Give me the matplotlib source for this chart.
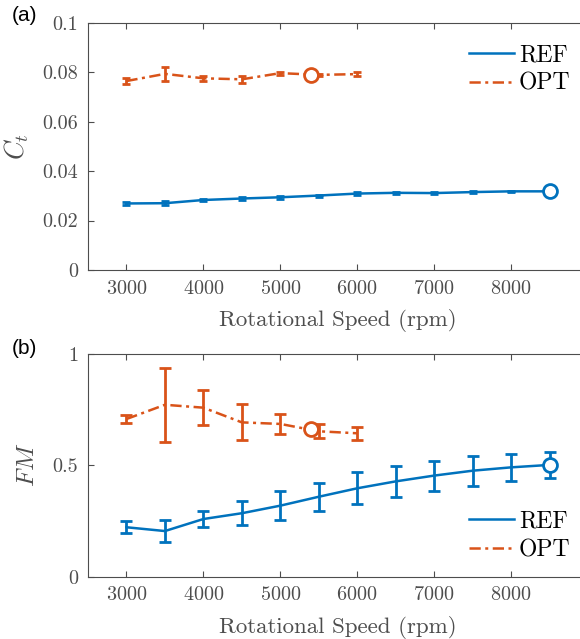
import matplotlib
matplotlib.use('Agg')
import matplotlib.pyplot as plt

plt.rcParams['font.family'] = 'serif'
plt.rcParams['font.serif'] = ['cmr10']
plt.rcParams['mathtext.fontset'] = 'cm'
plt.rcParams['axes.formatter.use_mathtext'] = True
plt.rcParams['axes.spines.right'] = False

BLUE = '#0072BD'
ORANGE = '#D95319'
GRAY = '#4d4d4d'
DASHDOT = (0, (4.5, 1.8, 1.2, 1.8))

# rotational speed (rpm)
rpm_ref = [3000, 3500, 4000, 4500, 5000, 5500, 6000, 6500, 7000, 7500, 8000, 8500]
rpm_opt = [3000, 3500, 4000, 4500, 5000, 5500, 6000]

# thrust coefficient
ct_ref = [0.0269, 0.0270, 0.0283, 0.0289, 0.0294, 0.0301, 0.0309, 0.0312, 0.0311, 0.0315, 0.0318, 0.0318]
ct_ref_err = [0.0005, 0.0009, 0.0003, 0.0005, 0.0007, 0.0004, 0.0007, 0.0005, 0.0003, 0.0003, 0.0003, 0.0003]
ct_opt = [0.0764, 0.0793, 0.0775, 0.0771, 0.0796, 0.0789, 0.0792]
ct_opt_err = [0.0013, 0.0027, 0.0010, 0.0014, 0.0006, 0.0005, 0.0007]

# figure of merit
fm_ref = [0.222, 0.205, 0.259, 0.285, 0.319, 0.359, 0.397, 0.428, 0.454, 0.476, 0.491, 0.502]
fm_ref_err = [0.028, 0.048, 0.038, 0.055, 0.064, 0.062, 0.071, 0.070, 0.067, 0.067, 0.062, 0.058]
fm_opt = [0.708, 0.772, 0.759, 0.693, 0.686, 0.653, 0.644]
fm_opt_err = [0.020, 0.165, 0.080, 0.081, 0.043, 0.031, 0.030]

# design points (open circles)
design_ref_rpm = 8500
design_opt_rpm = 5400
design_ct = [0.0318, 0.0789]
design_fm = [0.502, 0.663]

# the original axes run to 9000 rpm but the image is cropped at ~8900
fig = plt.figure(figsize=(5.8, 6.39), dpi=100)
ax1 = fig.add_axes([0.1517, 0.5775, 0.8483, 0.387])
ax2 = fig.add_axes([0.1517, 0.0975, 0.8483, 0.3485])


def draw(ax, yref, yref_err, yopt, yopt_err, ydes, cap):
    ax.errorbar(rpm_ref, yref, yerr=yref_err, color=BLUE, lw=1.8, ls='-',
                capsize=cap, capthick=2, elinewidth=2, label='REF')
    e = ax.errorbar(rpm_opt, yopt, yerr=yopt_err, color=ORANGE, lw=1.8,
                    capsize=cap, capthick=2, elinewidth=2, label='OPT')
    e[0].set_linestyle(DASHDOT)
    ax.plot([design_ref_rpm], [ydes[0]], 'o', mfc='white', mec=BLUE, mew=2, ms=10, zorder=5)
    ax.plot([design_opt_rpm], [ydes[1]], 'o', mfc='white', mec=ORANGE, mew=2, ms=10, zorder=5)
    ax.set_xlim(2500, 8896)
    ax.set_xticks([3000, 4000, 5000, 6000, 7000, 8000])
    ax.tick_params(direction='in', top=True, right=False, labelsize=14.5,
                   colors=GRAY, length=4, width=0.8, pad=7)
    for side in ['left', 'top', 'bottom']:
        ax.spines[side].set_color(GRAY)
        ax.spines[side].set_linewidth(0.8)
    ax.spines['right'].set_visible(False)
    ax.set_xlabel('Rotational Speed (rpm)', fontsize=16.5, color=GRAY, labelpad=8, x=0.508)
    h, l = ax.get_legend_handles_labels()
    h = [x[0] for x in h]
    return h, l


h, l = draw(ax1, ct_ref, ct_ref_err, ct_opt, ct_opt_err, design_ct, 3)
ax1.set_ylim(0, 0.1)
ax1.set_yticks([0, 0.02, 0.04, 0.06, 0.08, 0.1])
ax1.set_yticklabels(['0', '0.02', '0.04', '0.06', '0.08', '0.1'])
ax1.set_ylabel('$C_t$', fontsize=19, color=GRAY, labelpad=8)
ax1.legend(h, l, loc='upper right', bbox_to_anchor=(1.024, 1.0), frameon=False,
           fontsize=17, handlelength=1.9, handletextpad=0.2, labelspacing=0.28)

h, l = draw(ax2, fm_ref, fm_ref_err, fm_opt, fm_opt_err, design_fm, 4)
ax2.set_ylim(0, 1)
ax2.set_yticks([0, 0.5, 1])
ax2.set_yticklabels(['0', '0.5', '1'])
ax2.set_ylabel('$FM$', fontsize=18, color=GRAY, labelpad=10)
ax2.legend(h, l, loc='lower right', bbox_to_anchor=(1.024, -0.025), frameon=False,
           fontsize=17, handlelength=1.9, handletextpad=0.2, labelspacing=0.28)

fig.text(0.02, 0.975, '(a)', family='Liberation Sans', fontsize=15, va='center')
fig.text(0.02, 0.455, '(b)', family='Liberation Sans', fontsize=15, va='center')

fig.savefig('out.png', dpi=100)
